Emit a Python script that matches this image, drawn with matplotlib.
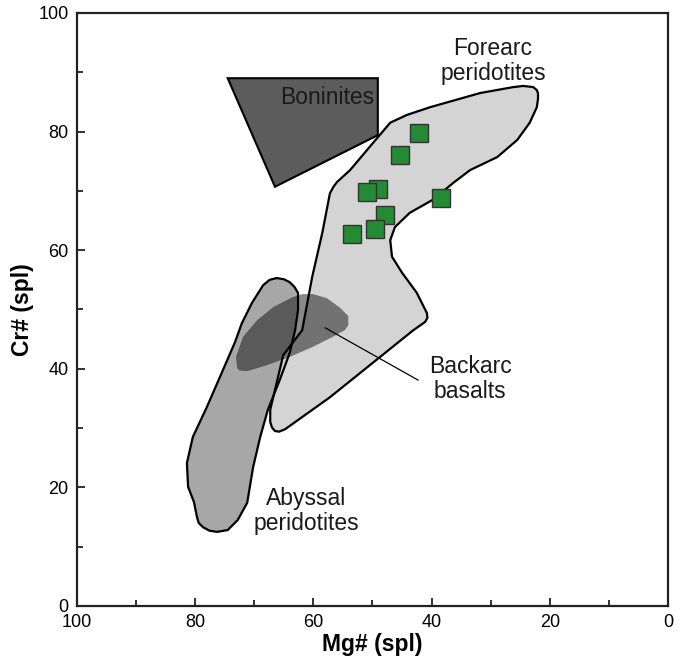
import matplotlib
matplotlib.use("Agg")
import matplotlib.pyplot as plt
from matplotlib.patches import Polygon

plt.rcParams['font.family'] = ['Liberation Sans', 'DejaVu Sans']

# field outlines (Mg#, Cr#)
boninite_mg = [74.5, 49.1, 49.1, 66.5]
boninite_cr = [89.0, 89.0, 79.4, 70.7]

forearc_mg = [66.5, 67.0, 67.3, 67.3, 65.1, 61.9, 60.2, 58.5, 57.2, 56.6, 56.0, 53.8,
              49.9, 47.0, 44.2, 40.3, 31.8, 26.2, 24.5, 22.8, 22.2, 22.0, 22.0, 22.2,
              23.4, 25.5, 28.9, 33.5, 36.4, 39.8, 43.7, 46.2, 47.0, 46.7, 45.0, 42.5,
              40.8, 40.7, 41.1, 43.1, 57.2, 64.8, 65.8]
forearc_cr = [29.5, 30.1, 31.0, 33.1, 42.3, 46.5, 55.5, 62.9, 69.6, 70.7, 71.5, 73.5,
              78.1, 81.5, 82.8, 84.1, 86.5, 87.5, 87.7, 87.5, 87.0, 86.5, 85.5, 84.1,
              81.5, 78.6, 75.7, 73.5, 71.3, 68.5, 66.3, 63.9, 61.7, 58.9, 56.2, 52.8,
              49.4, 48.6, 47.9, 46.5, 35.2, 29.8, 29.4]

abyssal_mg = [66.2, 65.0, 64.0, 63.2, 62.6, 62.6, 63.1, 64.0, 65.7, 67.7, 69.0, 70.2,
              71.2, 72.8, 74.5, 76.3, 77.6, 78.7, 79.4, 79.7, 80.2, 81.2, 81.4, 80.4,
              78.0, 75.3, 73.3, 72.1, 70.4, 68.5, 67.4]
abyssal_cr = [55.3, 55.1, 54.6, 53.8, 52.8, 49.9, 46.5, 42.7, 38.1, 33.1, 28.5, 23.4,
              17.4, 14.5, 12.8, 12.5, 12.7, 13.3, 14.0, 15.0, 17.5, 20.1, 24.1, 28.5,
              33.6, 39.8, 44.4, 47.7, 51.1, 54.1, 55.0]

backarc_mg = [60.1, 57.7, 55.5, 54.1, 54.1, 54.7, 56.7, 60.1, 64.0, 67.9, 71.2, 72.5,
              72.9, 73.1, 71.9, 69.5, 66.8, 63.5, 61.8]
backarc_cr = [52.6, 51.9, 50.3, 48.9, 47.3, 46.5, 45.4, 43.7, 42.0, 40.6, 39.6, 39.7,
              40.1, 42.0, 45.4, 48.2, 50.4, 52.1, 52.6]

# spinel samples
sample_mg = [42.1, 45.3, 49.1, 50.9, 47.9, 49.6, 53.5, 38.4]
sample_cr = [79.8, 76.1, 70.3, 69.8, 65.9, 63.6, 62.7, 68.8]

fig = plt.figure(figsize=(6.86, 6.63), dpi=100)
ax = fig.add_axes([0.1122, 0.0860, 0.8616, 0.8944])

ax.add_patch(Polygon(list(zip(boninite_mg, boninite_cr)), closed=True,
                     facecolor='#5c5c5c', edgecolor='black', lw=1.5, zorder=2))
ax.add_patch(Polygon(list(zip(abyssal_mg, abyssal_cr)), closed=True,
                     facecolor='#a7a7a7', edgecolor='none', zorder=2))
ax.add_patch(Polygon(list(zip(forearc_mg, forearc_cr)), closed=True,
                     facecolor='#d4d4d4', edgecolor='none', zorder=2))
ax.add_patch(Polygon(list(zip(backarc_mg, backarc_cr)), closed=True,
                     facecolor='black', edgecolor='none', alpha=0.46, zorder=3))
# outlines on top of the translucent backarc field
ax.add_patch(Polygon(list(zip(abyssal_mg, abyssal_cr)), closed=True, fill=False,
                     edgecolor='black', lw=1.6, joinstyle='round', zorder=4))
ax.add_patch(Polygon(list(zip(forearc_mg, forearc_cr)), closed=True, fill=False,
                     edgecolor='black', lw=1.6, joinstyle='round', zorder=4))

ax.plot([58.0, 42.3], [46.9, 38.1], color='black', lw=0.9, zorder=5)

ax.plot(sample_mg, sample_cr, 's', ms=12.8, mfc='#248a34', mec='#333333',
        mew=1.0, ls='none', zorder=6)

txt = dict(fontsize=16.5, ha='center', va='center', color='#1a1a1a', linespacing=1.15, zorder=7)
ax.text(57.7, 85.8, 'Boninites', **txt)
ax.text(29.6, 91.9, 'Forearc\nperidotites', **txt)
ax.text(33.5, 38.3, 'Backarc\nbasalts', **txt)
ax.text(61.2, 16.0, 'Abyssal\nperidotites', **txt)

ax.set_xlim(100, 0)
ax.set_ylim(0, 100)
ax.set_xticks([100, 80, 60, 40, 20, 0])
ax.set_xticks([90, 70, 50, 30, 10], minor=True)
ax.set_yticks([0, 20, 40, 60, 80, 100])
ax.set_yticks([10, 30, 50, 70, 90], minor=True)
ax.tick_params(which='both', direction='in', width=1.3, labelsize=13, color='#222222')
ax.tick_params(which='major', length=6, pad=6)
ax.tick_params(which='minor', length=4)
for s in ax.spines.values():
    s.set_linewidth(1.6)
    s.set_color('#222222')

ax.set_xlabel('Mg# (spl)', fontsize=16.5, fontweight='bold', labelpad=1)
ax.set_ylabel('Cr# (spl)', fontsize=16.5, fontweight='bold', labelpad=3)

fig.savefig('out.png', dpi=100)
